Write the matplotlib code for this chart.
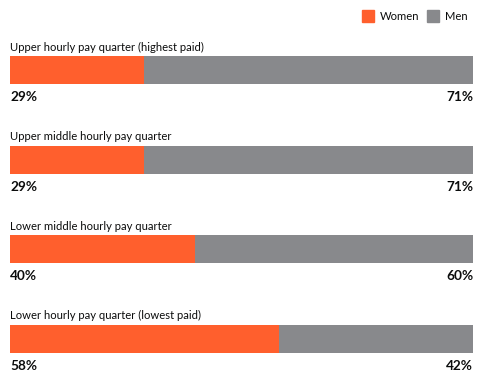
import matplotlib.pyplot as plt
import numpy as np

# data
categories = ['Upper hourly pay quarter (highest paid)',
              'Upper middle hourly pay quarter',
              'Lower middle hourly pay quarter',
              'Lower hourly pay quarter (lowest paid)']
women = [29, 29, 40, 58]
men = [71, 71, 60, 42]

c_women = '#ff5f2d'
c_men = '#88898c'

plt.rcParams['font.family'] = ['Lato', 'DejaVu Sans']

fig = plt.figure(figsize=(5, 3.92), dpi=100)
# axes in pixel-like coords vertically, 0-100 horizontally
ax = fig.add_axes([10/500, 0, 463/500, 1])
ax.set_xlim(0, 100)
ax.set_ylim(392, 0)
ax.axis('off')

rows = np.arange(len(categories))
bar_y = 70 + rows * 89.5
bar_h = 28

ax.barh(bar_y, women, height=bar_h, color=c_women, edgecolor='none')
ax.barh(bar_y, men, left=women, height=bar_h, color=c_men, edgecolor='none')

for y, cat, w, m in zip(bar_y, categories, women, men):
    ax.text(0, y - 23, cat, fontsize=8.1, color='#0b0c0c', va='center', ha='left')
    ax.text(0, y + 27, f'{w}%', fontsize=9.8, fontweight='bold', color='#0b0c0c',
            va='center', ha='left')
    ax.text(100, y + 27, f'{m}%', fontsize=9.8, fontweight='bold', color='#0b0c0c',
            va='center', ha='right')

# legend
fig.patches.append(plt.Rectangle((362/500, 1 - 22/392), 12/500, 12/392,
                                 transform=fig.transFigure, color=c_women))
fig.text(380/500, 1 - 17/392, 'Women', fontsize=8.1, color='#0b0c0c', va='center')
fig.patches.append(plt.Rectangle((427/500, 1 - 22/392), 12/500, 12/392,
                                 transform=fig.transFigure, color=c_men))
fig.text(445/500, 1 - 17/392, 'Men', fontsize=8.1, color='#0b0c0c', va='center')

fig.savefig('out.png', dpi=100)
